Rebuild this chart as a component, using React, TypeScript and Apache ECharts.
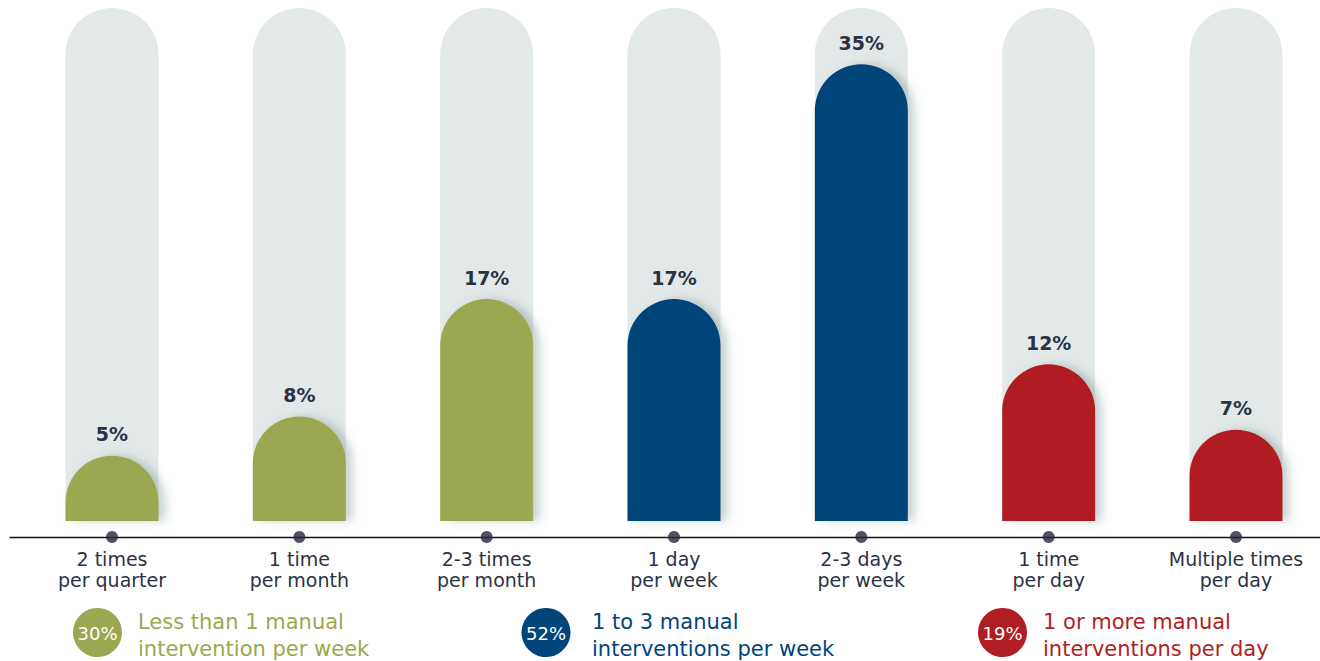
import React, { useEffect, useRef } from "react";
import * as echarts from "echarts";

const categories = [
  "2 times\nper quarter",
  "1 time\nper month",
  "2-3 times\nper month",
  "1 day\nper week",
  "2-3 days\nper week",
  "1 time\nper day",
  "Multiple times\nper day",
];
const values = [5, 8, 17, 17, 35, 12, 7];
const groupOf = [0, 0, 0, 1, 1, 2, 2];
const groupLabels = [
  "Less than 1 manual\nintervention per week",
  "1 to 3 manual\ninterventions per week",
  "1 or more manual\ninterventions per day",
];
const groupShares = [30, 52, 19];
const trackMax = 39.3;

const groupColors = ["#9ca751", "#02457a", "#b01e24"];
const legendCircleX = [97.5, 546, 1002.5];
const legendTextX = [138, 592, 1043];

const FONT = "'DejaVu Sans', 'Noto Sans', sans-serif";
const DARK = "#2c3245";

export default function App() {
  const ref = useRef<HTMLDivElement>(null);
  useEffect(() => {
    if (!ref.current) return;
    const chart = echarts.init(ref.current, null, { renderer: "svg" });
    const band = 1311.33 / categories.length;
    const firstCenter = 18.33 + band / 2;
    const lineMin = (10 - firstCenter) / band;
    const lineMax = (1320 - firstCenter) / band;

    const graphic: any[] = [];
    groupLabels.forEach((label, g) => {
      graphic.push({
        type: "circle",
        shape: { cx: legendCircleX[g], cy: 632.5, r: 24.5 },
        style: { fill: groupColors[g] },
        silent: true,
      });
      graphic.push({
        type: "text",
        x: legendCircleX[g],
        y: 633,
        style: {
          text: groupShares[g] + "%",
          fill: "#ffffff",
          font: `18px ${FONT}`,
          align: "center",
          verticalAlign: "middle",
        },
        silent: true,
      });
      graphic.push({
        type: "text",
        x: legendTextX[g],
        y: 635,
        style: {
          text: label,
          fill: groupColors[g],
          font: `21px ${FONT}`,
          lineHeight: 27,
          align: "left",
          verticalAlign: "middle",
        },
        silent: true,
      });
    });

    chart.setOption({
      animation: false,
      backgroundColor: "#ffffff",
      grid: [
        { left: 18.33, width: 1311.33, top: 8, height: 513, containLabel: false },
        { left: 10, width: 1310, top: 527, height: 20, containLabel: false },
      ],
      xAxis: [
        {
          type: "category",
          gridIndex: 0,
          data: categories,
          axisLine: { show: false },
          axisTick: { show: false },
          axisLabel: {
            margin: 27,
            fontFamily: FONT,
            fontSize: 19,
            lineHeight: 21,
            color: DARK,
          },
        },
        {
          type: "value",
          gridIndex: 1,
          min: lineMin,
          max: lineMax,
          axisLine: { show: true, onZero: true, lineStyle: { color: "#111111", width: 1.3 } },
          axisTick: { show: false },
          axisLabel: { show: false },
          splitLine: { show: false },
        },
      ],
      yAxis: [
        {
          type: "value",
          gridIndex: 0,
          min: 0,
          max: trackMax,
          show: false,
          splitLine: { show: false },
        },
        {
          type: "value",
          gridIndex: 1,
          min: -1,
          max: 1,
          show: false,
          splitLine: { show: false },
        },
      ],
      series: [
        {
          type: "bar",
          xAxisIndex: 0,
          yAxisIndex: 0,
          barWidth: 93,
          showBackground: true,
          backgroundStyle: {
            color: "#e3e9e8",
            borderRadius: [46.5, 46.5, 0, 0],
          },
          data: values.map((v, i) => ({
            value: v,
            itemStyle: { color: groupColors[groupOf[i]] },
          })),
          itemStyle: {
            borderRadius: [46.5, 46.5, 0, 0],
            shadowColor: "rgba(70, 100, 100, 0.28)",
            shadowBlur: 8,
            shadowOffsetX: 7,
            shadowOffsetY: 0,
          },
          label: {
            show: true,
            position: "top",
            distance: 12,
            formatter: "{c}%",
            fontFamily: FONT,
            fontWeight: "bold",
            fontSize: 19,
            color: DARK,
          },
          silent: true,
        },
        {
          type: "scatter",
          xAxisIndex: 1,
          yAxisIndex: 1,
          symbol: "circle",
          symbolSize: 12,
          itemStyle: { color: "#25273d" },
          data: categories.map((_, i) => [i, 0]),
          silent: true,
        },
      ],
      graphic,
    });
    return () => chart.dispose();
  }, []);
  return (
    <div
      style={{
        position: "absolute",
        left: 0,
        top: 0,
        width: 1320,
        height: 661,
        overflow: "hidden",
      }}
    >
      <div ref={ref} style={{ width: 1340, height: 661 }} />
    </div>
  );
}
